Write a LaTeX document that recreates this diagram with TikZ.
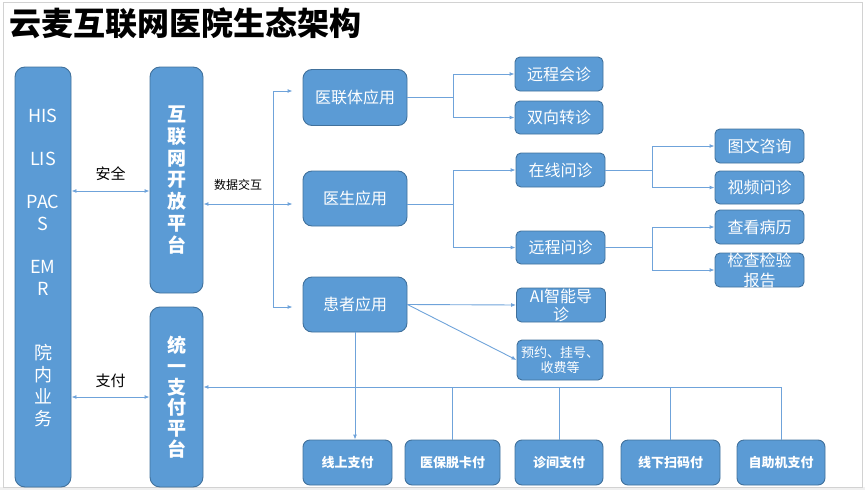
\documentclass[tikz,border=0pt]{standalone}
\usepackage{fontspec}
\setmainfont{Noto Sans CJK SC}
\usepackage{tikz}
\usetikzlibrary{arrows.meta,positioning}
\definecolor{boxblue}{HTML}{5B9BD5}
\definecolor{boxedge}{HTML}{41719C}
\definecolor{linkblue}{HTML}{6FA3DA}
\tikzset{
    base box/.style={draw=boxedge, fill=boxblue, text=white, line width=0.9pt, inner sep=0pt, align=center}, % 定义方框的通用样式
    pillar/.style={base box, rounded corners=10pt, minimum width=53pt}, % 定义竖条平台的样式
    app box/.style={base box, rounded corners=9pt, minimum width=104pt, minimum height=56pt, font=\fontsize{16}{19}\selectfont}, % 定义应用框的样式
    sub box/.style={base box, rounded corners=5pt, minimum width=89pt, minimum height=34pt, font=\fontsize{16}{18}\selectfont}, % 定义功能框的样式
    pay box/.style={base box, rounded corners=7pt, minimum height=45pt, font=\fontsize{13}{15}\selectfont\bfseries}, % 定义支付方式的样式
    link/.style={draw=linkblue, line width=0.9pt}, % 定义连线的样式
    arr/.style={-{Latex[length=5pt,width=4pt]}},
    tag/.style={inner sep=0pt, text=black}
}

\begin{document}
\begin{tikzpicture}[x=1pt, y=-1pt]
    \useasboundingbox (0,0) rectangle (865,490);
    \fill[gray!12] (0,487) rectangle (865,490);
    \draw[gray!35, line width=0.8pt] (3,2) rectangle (862,487);

    \node[tag, anchor=west, font=\fontsize{32}{36}\selectfont\bfseries] (title) at (9,23) {云麦互联网医院生态架构};

    % 左侧三根竖条
    \node[pillar, minimum width=56pt, minimum height=420pt] (hisBox) at (43,277) {};
    \node[text=white, inner sep=0pt, align=center, font=\fontsize{18}{22}\selectfont] (hisText) at (43,268)
        {HIS\\[21pt]LIS\\[21pt]PAC\\S\\[21pt]EM\\R\\[42pt]院\\内\\业\\务};
    \node[pillar, minimum height=226pt, font=\fontsize{19}{21.7}\selectfont\bfseries] (openPlat) at (176.5,180)
        {互\\联\\网\\开\\放\\平\\台};
    \node[pillar, minimum height=180pt, font=\fontsize{19}{20.7}\selectfont\bfseries] (payPlat) at (176.5,397)
        {统\\一\\支\\付\\平\\台};

    % 三类应用
    \node[app box] (lianti) at (355,97.5) {医联体应用};
    \node[app box, minimum height=55pt] (doctor) at (355,198.5) {医生应用};
    \node[app box, minimum height=55pt] (patient) at (355,304.5) {患者应用};

    \node[sub box, minimum width=88pt] (huizhen) at (559,74) {远程会诊};
    \node[sub box, minimum width=88pt, minimum height=33pt] (zhuanzhen) at (559,117.5) {双向转诊};
    \node[sub box] (zaixian) at (560.5,170) {在线问诊};
    \node[sub box, minimum height=33pt] (ycwenzhen) at (560.5,247.5) {远程问诊};
    \node[sub box, label={[text=white, align=center, font=\fontsize{16}{18}\selectfont]center:AI智能导\\诊}] (aiGuide) at (561,305) {};
    \node[sub box, minimum width=86pt, minimum height=40pt, font=\fontsize{13}{15}\selectfont] (booking) at (560,360) {预约、挂号、\\收费等};

    \node[sub box] (tuwen) at (759.5,146) {图文咨询};
    \node[sub box, minimum height=33pt] (shipin) at (759.5,187.5) {视频问诊};
    \node[sub box] (bingli) at (759.5,227) {查看病历};
    \node[sub box, label={[text=white, align=center, font=\fontsize{16}{20}\selectfont]center:检查检验\\报告}] (baogao) at (759.5,270) {};

    % 支付方式
    \node[pay box, minimum width=89pt] (pay1) at (347.5,462.5) {线上支付};
    \node[pay box, minimum width=95pt] (pay2) at (452.5,462.5) {医保脱卡付};
    \node[pay box, minimum width=88pt] (pay3) at (559,462.5) {诊间支付};
    \node[pay box, minimum width=99pt] (pay4) at (670.5,462.5) {线下扫码付};
    \node[pay box, minimum width=88pt] (pay5) at (781,462.5) {自助机支付};

    % 左侧连线
    \coordinate (safeR) at ([yshift=-11pt]openPlat.west);
    \draw[link, {Latex[length=5pt,width=4pt]}-{Latex[length=5pt,width=4pt]}] (hisBox.east |- safeR) -- (safeR)
        node[tag, midway, above=10pt, font=\fontsize{15}{17}\selectfont] (safeTag) {安全};
    \draw[link, {Latex[length=5pt,width=4pt]}-{Latex[length=5pt,width=4pt]}] (hisBox.east |- payPlat.west) -- (payPlat.west)
        node[tag, midway, above=9pt, font=\fontsize{15}{17}\selectfont] (payTag) {支付};

    % 数据交互主干
    \coordinate (trunkTop) at (273,91);
    \coordinate (trunkBot) at (273,307);
    \coordinate (dataR) at ([yshift=-24pt]openPlat.east);
    \draw[link] (trunkTop) -- (trunkBot);
    \draw[link, arr] (trunkTop |- dataR) -- (dataR)
        node[tag, midway, above=13pt, font=\fontsize{12}{14}\selectfont] (dataTag) {数据交互};
    \draw[link, arr, shorten >=10pt] (trunkTop) -- (trunkTop -| lianti.west);
    \draw[link, arr, shorten >=10pt] (trunkTop |- dataR) -- (dataR -| doctor.west);
    \draw[link, arr, shorten >=10pt] (trunkBot) -- (trunkBot -| patient.west);

    % 应用分支
    \draw[link] (lianti.east) -- ++(46,0) coordinate (b1);
    \draw[link, arr] (b1) |- (huizhen.west);
    \draw[link, arr] (b1) |- (zhuanzhen.west);
    \draw[link] (doctor.east |- dataR) -- ++(46,0) coordinate (b2);
    \draw[link, arr] (b2) |- (zaixian.west);
    \draw[link, arr] (b2) |- (ycwenzhen.west);
    \draw[link] (zaixian.east) -- ++(47,0) coordinate (b3);
    \draw[link, arr] (b3) |- (tuwen.west);
    \draw[link, arr] (b3) |- (shipin.west);
    \draw[link] (ycwenzhen.east) -- ++(47,0) coordinate (b4);
    \draw[link, arr] (b4) |- (bingli.west);
    \draw[link, arr] (b4) |- (baogao.west);
    \draw[link, arr] (patient.east) -- (aiGuide.west);
    \draw[link, arr] (patient.east) -- (booking.west);

    % 支付总线
    \coordinate (busR) at (781,387);
    \draw[link, arr] (busR) -- (busR -| payPlat.east);
    \draw[link, arr] (patient.south) -- (patient.south |- pay1.north);
    \foreach \p in {pay2,pay3,pay4,pay5} {\draw[link] (\p.north) -- (\p.north |- busR);}
\end{tikzpicture}
\end{document}
